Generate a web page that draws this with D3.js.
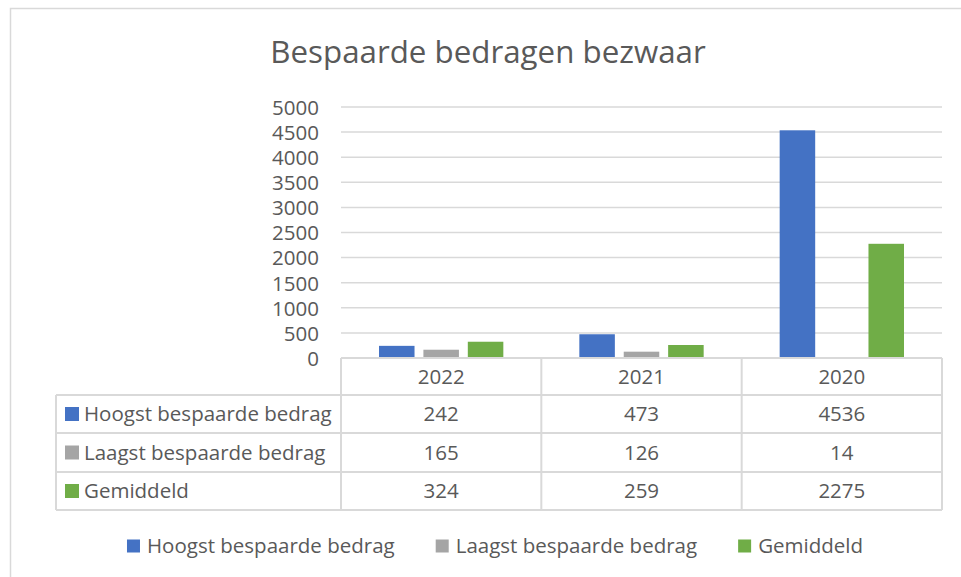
<!DOCTYPE html>
<html>
<head>
<meta charset="utf-8">
<script src="https://cdn.jsdelivr.net/npm/d3@7"></script>
<style>
  body { margin: 0; background: #fff; }
  text { font-family: "Open Sans", "Liberation Sans", sans-serif; fill: #595959; }
</style>
</head>
<body>
<svg id="chart" width="961" height="577"></svg>
<script>
const categories = ['2022', '2021', '2020']
const seriesNames = ['Hoogst bespaarde bedrag', 'Laagst bespaarde bedrag', 'Gemiddeld']
const hoogst = [242, 473, 4536]
const laagst = [165, 126, 14]
const gemiddeld = [324, 259, 2275]
const yTicks = [0, 500, 1000, 1500, 2000, 2500, 3000, 3500, 4000, 4500, 5000]
const colors = ['#4472C4', '#A5A5A5', '#70AD47']

const values = [hoogst, laagst, gemiddeld]
const svg = d3.select('#chart')
const gridColor = '#d9d9d9'
const fs = 20.5

// chart frame
svg.append('rect')
  .attr('x', 10.5).attr('y', 8.5)
  .attr('width', 1000).attr('height', 700)
  .attr('fill', '#fff')
  .attr('stroke', gridColor).attr('stroke-width', 1.5)

svg.append('text')
  .attr('x', 488).attr('y', 63)
  .attr('text-anchor', 'middle')
  .attr('font-size', 31.3)
  .text('Bespaarde bedragen bezwaar')

const plot = { left: 341, right: 942, top: 107, bottom: 358 }

let x0 = d3.scaleBand().domain(categories).range([plot.left, plot.right])
let x1 = d3.scaleBand().domain(seriesNames)
  .range([38, x0.bandwidth() - 38]).paddingInner(0.2)
let y = d3.scaleLinear().domain([0, 5000]).range([plot.bottom, plot.top])

// gridlines
svg.append('g').selectAll('line')
  .data(yTicks.filter(d => d > 0))
  .enter().append('line')
  .attr('x1', plot.left).attr('x2', plot.right)
  .attr('y1', d => y(d)).attr('y2', d => y(d))
  .attr('stroke', gridColor).attr('stroke-width', 1.5)

// y axis labels
let yAxis = svg.append('g')
  .attr('transform', `translate(${plot.left - 22},0)`)
  .call(d3.axisLeft(y).tickValues(yTicks).tickFormat(d3.format('d')).tickSize(0).tickPadding(0))
yAxis.select('.domain').remove()
yAxis.selectAll('text')
  .attr('font-size', fs).attr('font-family', null)
  .attr('fill', null).attr('dy', '0.36em')

// bars
let groups = svg.append('g').selectAll('g')
  .data(categories)
  .enter().append('g')
  .attr('transform', d => `translate(${x0(d)},0)`)
groups.selectAll('rect')
  .data((d, i) => seriesNames.map((s, j) => ({ s: s, v: values[j][i], c: colors[j] })))
  .enter().append('rect')
  .attr('x', d => x1(d.s))
  .attr('width', x1.bandwidth())
  .attr('y', d => y(d.v))
  .attr('height', d => y(0) - y(d.v))
  .attr('fill', d => d.c)

// data table
const rowTop = [358, 395, 433, 472, 510]
const tableLeft = 56
let table = svg.append('g').attr('stroke', gridColor).attr('stroke-width', 2)
table.append('line').attr('x1', plot.left).attr('x2', plot.right)
  .attr('y1', rowTop[0]).attr('y2', rowTop[0])
rowTop.slice(1).forEach(t => {
  table.append('line').attr('x1', tableLeft).attr('x2', plot.right)
    .attr('y1', t).attr('y2', t)
})
categories.forEach(c => {
  table.append('line').attr('x1', x0(c)).attr('x2', x0(c))
    .attr('y1', rowTop[0]).attr('y2', rowTop[4])
})
table.append('line').attr('x1', plot.right).attr('x2', plot.right)
  .attr('y1', rowTop[0]).attr('y2', rowTop[4])
table.append('line').attr('x1', tableLeft).attr('x2', tableLeft)
  .attr('y1', rowTop[1]).attr('y2', rowTop[4])

let rowMid = i => (rowTop[i] + rowTop[i + 1]) / 2

svg.append('g').selectAll('text')
  .data(categories)
  .enter().append('text')
  .attr('x', d => x0(d) + x0.bandwidth() / 2)
  .attr('y', rowMid(0)).attr('dy', '0.36em')
  .attr('text-anchor', 'middle').attr('font-size', fs)
  .text(d => d)

seriesNames.forEach((s, j) => {
  let cy = rowMid(j + 1)
  svg.append('rect')
    .attr('x', 65).attr('y', cy - 7)
    .attr('width', 14).attr('height', 14)
    .attr('fill', colors[j])
  svg.append('text')
    .attr('x', 84).attr('y', cy).attr('dy', '0.36em')
    .attr('font-size', fs)
    .text(s)
  svg.append('g').selectAll('text')
    .data(categories)
    .enter().append('text')
    .attr('x', d => x0(d) + x0.bandwidth() / 2)
    .attr('y', cy).attr('dy', '0.36em')
    .attr('text-anchor', 'middle').attr('font-size', fs)
    .text((d, i) => values[j][i])
})

// legend
let legend = svg.append('g')
let lx = 0
seriesNames.forEach((s, j) => {
  let item = legend.append('g').attr('transform', `translate(${lx},0)`)
  item.append('rect')
    .attr('x', 0).attr('y', -6.5)
    .attr('width', 13).attr('height', 13)
    .attr('fill', colors[j])
  let t = item.append('text')
    .attr('x', 20).attr('dy', '0.36em')
    .attr('font-size', fs)
    .text(s)
  lx += 20 + t.node().getComputedTextLength() + 41
})
lx -= 41
legend.attr('transform', `translate(${495 - lx / 2},546)`)
</script>
</body>
</html>
